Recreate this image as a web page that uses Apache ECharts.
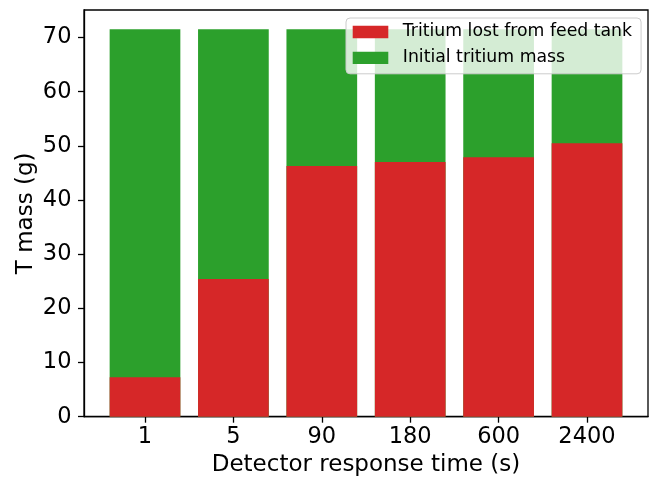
<!DOCTYPE html>
<html>
<head>
<meta charset="utf-8">
<script src="https://cdn.jsdelivr.net/npm/echarts@6/dist/echarts.min.js"></script>
<style>html,body{margin:0;padding:0;background:#fff;}#chart{width:655px;height:479px;}</style>
</head>
<body>
<div id="chart"></div>
<script>
const categories = ['1', '5', '90', '180', '600', '2400'];
const lostValues = [7.3, 25.4, 46.3, 47.0, 47.9, 50.5];
const initialValues = [71.5, 71.5, 71.5, 71.5, 71.5, 71.5];
const yTicks = [0, 10, 20, 30, 40, 50, 60, 70];
const seriesNames = ['Tritium lost from feed tank', 'Initial tritium mass'];

const positions = categories.map((c, i) => i);
const FONT = 'DejaVu Sans';
const chart = echarts.init(document.getElementById('chart'), null, {renderer: 'canvas'});
chart.setOption({
  animation: false,
  backgroundColor: '#ffffff',
  grid: {left: 84, right: 7, top: 10, bottom: 62.3, show: true, borderColor: '#000', borderWidth: 1.3,
         backgroundColor: 'transparent', containLabel: false, outerBoundsMode: 'none'},
  legend: {
    orient: 'vertical', left: 346, top: 18,
    data: seriesNames,
    itemWidth: 35.6, itemHeight: 12.3, itemGap: 7.8,
    padding: [5, 9, 7, 6.7],
    backgroundColor: 'rgba(255,255,255,0.8)',
    borderColor: '#cccccc', borderWidth: 1, borderRadius: 4,
    textStyle: {fontFamily: FONT, fontSize: 17.3, color: '#000', lineHeight: 18, padding: [0, 0, 0, 9.5]},
    icon: 'rect'
  },
  xAxis: {
    type: 'value', min: -0.69, max: 5.69,
    splitLine: {show: false},
    axisLine: {show: true, onZero: false, lineStyle: {color: '#000', width: 1.3}},
    axisTick: {show: true, customValues: positions, length: 6, lineStyle: {color: '#000', width: 1.3}},
    axisLabel: {customValues: positions, formatter: v => categories[Math.round(v)], fontFamily: FONT, fontSize: 22.5, color: '#000', margin: 9},
    name: 'Detector response time (s)', nameLocation: 'middle', nameGap: 36.5, nameMoveOverlap: false,
    nameTextStyle: {fontFamily: FONT, fontSize: 23, color: '#000'}
  },
  yAxis: {
    type: 'value', min: 0, max: 75.075,
    splitLine: {show: false},
    axisLine: {show: true, onZero: false, lineStyle: {color: '#000', width: 1.3}},
    axisTick: {show: true, customValues: yTicks, length: 6, lineStyle: {color: '#000', width: 1.3}},
    axisLabel: {customValues: yTicks, fontFamily: FONT, fontSize: 22.5, color: '#000', margin: 12.5},
    name: 'T mass (g)', nameLocation: 'middle', nameGap: 46, nameRotate: 90, nameMoveOverlap: false,
    nameTextStyle: {fontFamily: FONT, fontSize: 23, color: '#000'}
  },
  series: [
    {
      name: seriesNames[1], type: 'bar', barWidth: 70.7, barGap: '-100%', z: 2,
      itemStyle: {color: '#2ca02c'},
      data: initialValues.map((v, i) => [positions[i], v])
    },
    {
      name: seriesNames[0], type: 'bar', barWidth: 70.7, barGap: '-100%', z: 3,
      itemStyle: {color: '#d62728'},
      data: lostValues.map((v, i) => [positions[i], v])
    }
  ]
});
</script>
</body>
</html>
